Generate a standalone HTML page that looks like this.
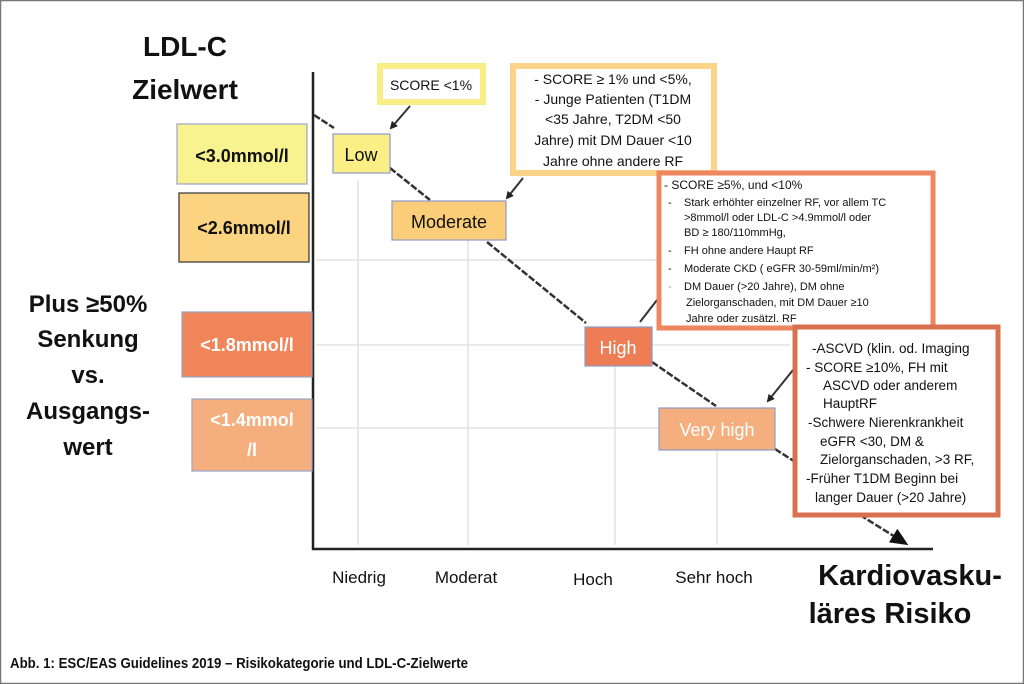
<!DOCTYPE html>
<html><head><meta charset="utf-8"><style>
html,body{margin:0;padding:0;background:#fff}
svg{display:block}
text{font-family:"Liberation Sans",sans-serif}
</style></head><body>
<svg width="1024" height="684" viewBox="0 0 1024 684" xmlns="http://www.w3.org/2000/svg">
<defs>
<marker id="ah" markerWidth="8" markerHeight="8" refX="6" refY="4" orient="auto" markerUnits="userSpaceOnUse"><path d="M0,0 L8,4 L0,8 z" fill="#222"/></marker>
<marker id="ahb" markerWidth="18" markerHeight="16" refX="14" refY="8" orient="auto" markerUnits="userSpaceOnUse"><path d="M0,0 L18,8 L0,16 z" fill="#111"/></marker>
</defs>
<rect x="0.5" y="0.5" width="1023" height="683" fill="#fff" stroke="#777" stroke-width="1.5"/>
<!-- grid -->
<g stroke="#e2e2e2" stroke-width="1.5">
<line x1="358" y1="180" x2="358" y2="545"/>
<line x1="468" y1="240" x2="468" y2="545"/>
<line x1="615" y1="365" x2="615" y2="545"/>
<line x1="717" y1="450" x2="717" y2="545"/>
<line x1="316" y1="260" x2="700" y2="260"/>
<line x1="316" y1="345" x2="790" y2="345"/>
<line x1="316" y1="428" x2="660" y2="428"/>
</g>
<!-- axes -->
<line x1="313" y1="72" x2="313" y2="550" stroke="#222" stroke-width="2.5"/>
<line x1="312" y1="549" x2="933" y2="549" stroke="#222" stroke-width="2.5"/>
<!-- diagonal -->
<g stroke="#333" stroke-width="2.5" stroke-dasharray="7,2" fill="none">
<line x1="314" y1="115" x2="334" y2="128"/>
<line x1="390" y1="168" x2="430" y2="200"/>
<line x1="487" y1="242" x2="586" y2="323"/>
<line x1="652" y1="362" x2="716" y2="406"/>
<line x1="775" y1="449" x2="800" y2="465"/>
<line x1="860" y1="515" x2="905" y2="543" marker-end="url(#ahb)"/>
</g>
<g stroke="#333" stroke-width="2" fill="none">
<line x1="410" y1="106" x2="391" y2="128" marker-end="url(#ah)"/>
<line x1="523" y1="178" x2="507" y2="198" marker-end="url(#ah)"/>
<line x1="793" y1="370" x2="768" y2="401" marker-end="url(#ah)"/>
<line x1="657" y1="300" x2="640" y2="322"/>
</g>
<!-- left boxes -->
<rect x="177" y="124" width="130" height="60" fill="#f8f28f" stroke="#9aa4c8" stroke-width="1.2"/>
<text x="242" y="162" font-size="18" font-weight="bold" text-anchor="middle" fill="#111">&lt;3.0mmol/l</text>
<rect x="179" y="193" width="130" height="69" fill="#fcd381" stroke="#333" stroke-width="1.2"/>
<text x="244" y="234" font-size="18" font-weight="bold" text-anchor="middle" fill="#111">&lt;2.6mmol/l</text>
<rect x="182" y="312" width="130" height="65" fill="#f0855a" stroke="#9aa4c8" stroke-width="1.2"/>
<text x="247" y="351" font-size="18" font-weight="bold" text-anchor="middle" fill="#fff">&lt;1.8mmol/l</text>
<rect x="192" y="399" width="120" height="72" fill="#f5ae7d" stroke="#9aa4c8" stroke-width="1.2"/>
<text x="252" y="426" font-size="18" font-weight="bold" text-anchor="middle" fill="#fff">&lt;1.4mmol</text>
<text x="252" y="456" font-size="18" font-weight="bold" text-anchor="middle" fill="#fff">/l</text>
<!-- category boxes -->
<rect x="333" y="134" width="57" height="39" fill="#f9ef85" stroke="#8f9ac8" stroke-width="1.2"/>
<text x="361" y="161" font-size="18" text-anchor="middle" fill="#111">Low</text>
<rect x="392" y="201" width="114" height="39" fill="#fbcd78" stroke="#8f9ac8" stroke-width="1.2"/>
<text x="449" y="228" font-size="18" text-anchor="middle" fill="#111">Moderate</text>
<rect x="585" y="327" width="67" height="39" fill="#ee7d55" stroke="#8f9ac8" stroke-width="1.2"/>
<text x="618" y="354" font-size="18" text-anchor="middle" fill="#fff">High</text>
<rect x="659" y="408" width="116" height="42" fill="#f5ae7d" stroke="#8f9ac8" stroke-width="1.2"/>
<text x="717" y="436" font-size="18" text-anchor="middle" fill="#fff">Very high</text>
<!-- description boxes -->
<rect x="380" y="66" width="103" height="36" fill="#fff" stroke="#f8ee88" stroke-width="6"/>
<text x="431" y="90" font-size="14" text-anchor="middle" fill="#111">SCORE &lt;1%</text>
<rect x="513" y="66" width="201" height="107" fill="#fff" stroke="#fbd489" stroke-width="6"/>
<g font-size="14" text-anchor="middle" fill="#111">
<text x="613" y="84">- SCORE ≥ 1% und &lt;5%,</text>
<text x="613" y="104">- Junge Patienten (T1DM</text>
<text x="613" y="124">&lt;35 Jahre, T2DM &lt;50</text>
<text x="613" y="145">Jahre) mit DM Dauer &lt;10</text>
<text x="613" y="166">Jahre ohne andere RF</text>
</g>
<rect x="659" y="173" width="274" height="155" fill="#fff" stroke="#ee8660" stroke-width="5"/>
<g font-size="11" fill="#111">
<text x="664" y="189" font-size="12">- SCORE ≥5%, und &lt;10%</text>
<text x="668" y="206">-</text><text x="684" y="206">Stark erhöhter einzelner RF, vor allem TC</text>
<text x="684" y="221">&gt;8mmol/l oder LDL-C &gt;4.9mmol/l oder</text>
<text x="684" y="236">BD ≥ 180/110mmHg,</text>
<text x="668" y="254">-</text><text x="684" y="254">FH ohne andere Haupt RF</text>
<text x="668" y="272">-</text><text x="684" y="272">Moderate CKD ( eGFR 30-59ml/min/m²)</text>
<text x="668" y="290" fill="#999">-</text><text x="684" y="290">DM Dauer (&gt;20 Jahre), DM ohne</text>
<text x="686" y="306">Zielorganschaden, mit DM Dauer ≥10</text>
<text x="686" y="322">Jahre oder zusätzl. RF</text>
</g>
<rect x="795" y="327" width="203" height="188" fill="#fff" stroke="#d9704f" stroke-width="5"/>
<g font-size="13.5" fill="#111">
<text x="812" y="353">-ASCVD (klin. od. Imaging</text>
<text x="806" y="372">- SCORE ≥10%, FH mit</text>
<text x="823" y="390">ASCVD oder anderem</text>
<text x="823" y="408">HauptRF</text>
<text x="808" y="427">-Schwere Nierenkrankheit</text>
<text x="820" y="446">eGFR &lt;30, DM &amp;</text>
<text x="820" y="464">Zielorganschaden, &gt;3 RF,</text>
<text x="806" y="483">-Früher T1DM Beginn bei</text>
<text x="815" y="502">langer Dauer (&gt;20 Jahre)</text>
</g>
<!-- axis labels -->
<g font-size="17" fill="#111" text-anchor="middle">
<text x="359" y="583">Niedrig</text>
<text x="466" y="583">Moderat</text>
<text x="593" y="585">Hoch</text>
<text x="714" y="583">Sehr hoch</text>
</g>
<g font-size="29" font-weight="bold" fill="#111" text-anchor="middle">
<text x="910" y="585">Kardiovasku-</text>
<text x="890" y="623">läres Risiko</text>
</g>
<g font-size="28" font-weight="bold" fill="#111" text-anchor="middle">
<text x="185" y="56">LDL-C</text>
<text x="185" y="99">Zielwert</text>
</g>
<g font-size="24" font-weight="bold" fill="#111" text-anchor="middle">
<text x="88" y="312">Plus ≥50%</text>
<text x="88" y="347">Senkung</text>
<text x="88" y="383">vs.</text>
<text x="88" y="419">Ausgangs-</text>
<text x="88" y="455">wert</text>
</g>
<text x="10" y="668" font-size="15" font-weight="bold" fill="#111" textLength="458" lengthAdjust="spacingAndGlyphs">Abb. 1: ESC/EAS Guidelines 2019 – Risikokategorie und LDL-C-Zielwerte</text>
</svg>
</body></html>
